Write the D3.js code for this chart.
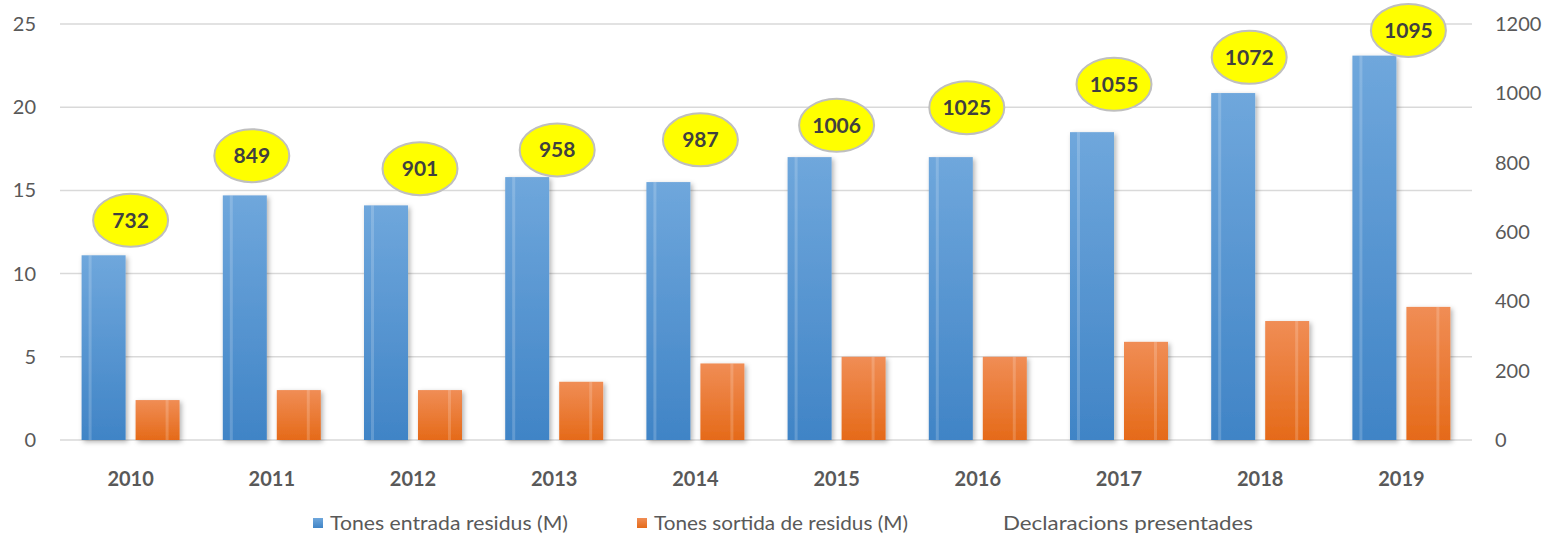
<!DOCTYPE html>
<html>
<head>
<meta charset="utf-8">
<title>Residus</title>
<script src="https://cdn.jsdelivr.net/npm/d3@7"></script>
<style>
  body { margin: 0; background: #fff; }
  svg { display: block; font-family: Lato, "Open Sans", sans-serif; }
</style>
</head>
<body>
<script>
var years = ["2010","2011","2012","2013","2014","2015","2016","2017","2018","2019"];
var entrada = [11.1, 14.7, 14.1, 15.8, 15.5, 17.0, 17.0, 18.5, 20.85, 23.1];
var sortida = [2.4, 3.0, 3.0, 3.5, 4.6, 5.0, 5.0, 5.9, 7.15, 8.0];
var declaracions = [732, 849, 901, 958, 987, 1006, 1025, 1055, 1072, 1095];
var leftTicks = [0, 5, 10, 15, 20, 25];
var rightTicks = [0, 200, 400, 600, 800, 1000, 1200];
var seriesNames = ["Tones entrada residus (M)", "Tones sortida de residus (M)", "Declaracions presentades"];
// labels were dragged by hand in the original, so nudge them
var labelNudge = [[0,34],[-20,10],[7,41],[3,42],[5,42],[0,34],[-11,23],[-5,10],[-11,-11],[7,-30]];

var w = 1549, h = 537;
var m = { left: 60, right: 1472, top: 24, bottom: 440 };

var svg = d3.select("body").append("svg")
    .attr("width", w)
    .attr("height", h);

var defs = svg.append("defs");
function grad(id, c1, c2) {
    var g = defs.append("linearGradient").attr("id", id)
        .attr("x1", 0).attr("y1", 0).attr("x2", 0).attr("y2", 1);
    g.append("stop").attr("offset", "0%").attr("stop-color", c1);
    g.append("stop").attr("offset", "100%").attr("stop-color", c2);
}
grad("gBlue", "#6fa7dc", "#4084c6");
grad("gOrange", "#f08d55", "#e56a19");

var f = defs.append("filter").attr("id", "shadow")
    .attr("x", "-20%").attr("y", "-10%").attr("width", "150%").attr("height", "130%");
f.append("feDropShadow").attr("dx", 2).attr("dy", 2).attr("stdDeviation", 2.5)
    .attr("flood-color", "#000").attr("flood-opacity", 0.3);

var x = d3.scaleBand().domain(years).range([m.left, m.right]);
var x1 = d3.scaleBand().domain(["a", "b"]).range([0, x.bandwidth()])
    .paddingInner(0.185).paddingOuter(0.4);
var yL = d3.scaleLinear().domain([0, 25]).range([m.bottom, m.top]);
var yR = d3.scaleLinear().domain([0, 1200]).range([m.bottom, m.top]);

// gridlines
svg.append("g").selectAll("line")
    .data(leftTicks)
    .enter().append("line")
    .attr("x1", m.left).attr("x2", m.right)
    .attr("y1", function(d) { return yL(d); })
    .attr("y2", function(d) { return yL(d); })
    .attr("stroke", "#d9d9d9")
    .attr("stroke-width", 1.5);

// axes
var axL = svg.append("g")
    .attr("transform", "translate(" + (m.left - 24) + ",0)")
    .call(d3.axisLeft(yL).tickValues(leftTicks).tickSize(0).tickPadding(0));
var axR = svg.append("g")
    .attr("transform", "translate(" + (m.right + 23) + ",0)")
    .call(d3.axisRight(yR).tickValues(rightTicks).tickFormat(d3.format("d"))
        .tickSize(0).tickPadding(0));
var axX = svg.append("g")
    .attr("transform", "translate(0," + (m.bottom + 20) + ")")
    .call(d3.axisBottom(x).tickSize(0).tickPadding(12));
[axL, axR, axX].forEach(function(a) {
    a.select(".domain").remove();
    a.selectAll("text").attr("fill", "#595959").style("font-size", "20px")
        .style("font-family", "Lato, 'Open Sans', sans-serif");
});
axX.selectAll("text").style("font-weight", "bold").style("font-size", "20px");

function drawBars(vals, key, fill, stripeAt) {
    var g = svg.append("g");
    var bw = x1.bandwidth();
    g.selectAll("rect.bar")
        .data(vals)
        .enter().append("rect")
        .attr("class", "bar")
        .attr("x", function(d, i) { return x(years[i]) + x1(key); })
        .attr("y", function(d) { return yL(d); })
        .attr("width", bw)
        .attr("height", function(d) { return m.bottom - yL(d); })
        .attr("fill", fill)
        .attr("filter", "url(#shadow)");
    g.selectAll("rect.stripe")
        .data(vals)
        .enter().append("rect")
        .attr("class", "stripe")
        .attr("x", function(d, i) { return x(years[i]) + x1(key) + stripeAt; })
        .attr("y", function(d) { return yL(d); })
        .attr("width", 3)
        .attr("height", function(d) { return m.bottom - yL(d); })
        .attr("fill", "#fff")
        .attr("opacity", 0.18);
}
drawBars(entrada, "a", "url(#gBlue)", 7);
drawBars(sortida, "b", "url(#gOrange)", 30);

// data labels for the hidden line series
var lab = svg.append("g").selectAll("g")
    .data(declaracions)
    .enter().append("g")
    .attr("transform", function(d, i) {
        var cx = x(years[i]) + x.bandwidth() / 2 + labelNudge[i][0];
        var cy = yR(d) + labelNudge[i][1];
        return "translate(" + cx + "," + cy + ")";
    });
lab.append("ellipse")
    .attr("rx", 37.5).attr("ry", 26.5)
    .attr("fill", "#ffff00")
    .attr("stroke", "#bfbfbf")
    .attr("stroke-width", 2);
lab.append("text")
    .attr("text-anchor", "middle")
    .attr("dy", "0.35em")
    .attr("fill", "#404040")
    .style("font-size", "21px")
    .style("font-weight", "bold")
    .text(function(d) { return d; });

// legend
var legX = [313, 637, 1003];
var legW = [255, 271, 250];
var legFill = ["url(#gBlue)", "url(#gOrange)", null];
var leg = svg.append("g").selectAll("g")
    .data(seriesNames)
    .enter().append("g")
    .attr("transform", function(d, i) { return "translate(" + legX[i] + ",523)"; });
leg.filter(function(d, i) { return legFill[i]; })
    .append("rect")
    .attr("x", 0).attr("y", -5)
    .attr("width", 10).attr("height", 10)
    .attr("fill", function(d) { return legFill[seriesNames.indexOf(d)]; });
leg.append("text")
    .attr("x", function(d, i) { return legFill[i] ? 17 : 0; })
    .attr("dy", "0.35em")
    .attr("fill", "#595959")
    .attr("textLength", function(d, i) { return legFill[i] ? legW[i] - 17 : legW[i]; })
    .attr("lengthAdjust", "spacingAndGlyphs")
    .style("font-size", "20px")
    .text(function(d) { return d; });
</script>
</body>
</html>
